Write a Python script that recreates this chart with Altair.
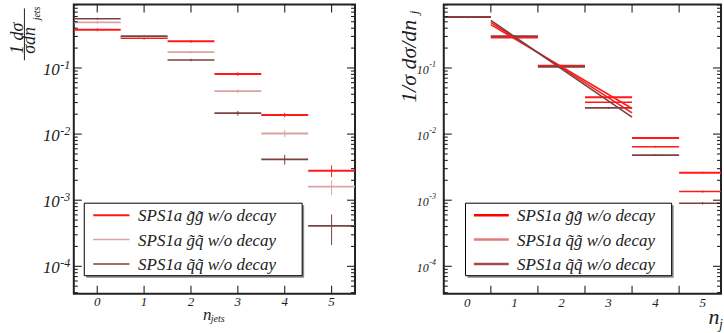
import altair as alt
import pandas as pd

FONT = "Liberation Serif"
INK = "#222222"

# ---------------- data ----------------
bins = [0, 1, 2, 3, 4, 5]
bin_labels = ["0", "1", "2", "3", "4", "5"]

left_series = ["gg", "gq", "qq"]
left_labels = ["SPS1a g\u0303g\u0303 w/o decay",
               "SPS1a g\u0303q\u0303 w/o decay",
               "SPS1a q\u0303q\u0303 w/o decay"]
left_gg = [0.379, 0.283, 0.253, 0.0812, 0.0195, 0.0028]
left_gg_err = [0.02, 0.015, 0.013, 0.005, 0.0015, 0.00055]
left_gq = [0.489, 0.294, 0.174, 0.0446, 0.0102, 0.0016]
left_gq_err = [0.02, 0.012, 0.008, 0.0028, 0.0012, 0.0004]
left_qq = [0.556, 0.304, 0.132, 0.0207, 0.00415, 0.00041]
left_qq_err = [0.02, 0.012, 0.006, 0.0017, 0.0007, 0.0002]

right_series = ["gg", "qg", "qq"]
right_labels = ["SPS1a g\u0303g\u0303  w/o decay",
                "SPS1a q\u0303g\u0303 w/o decay",
                "SPS1a q\u0303q\u0303 w/o decay"]
right_gg = [0.588, 0.290, 0.108, 0.0361, 0.0087, 0.0026]
right_gg_err = [0.02, 0.01, 0.004, 0.0012, 0.0003, 0.0001]
right_qg = [0.588, 0.298, 0.106, 0.0304, 0.00644, 0.00135]
right_qg_err = [0.02, 0.01, 0.004, 0.0010, 0.0002, 0.00005]
right_qq = [0.588, 0.305, 0.104, 0.0249, 0.00482, 0.0009]
right_qq_err = [0.02, 0.01, 0.004, 0.0008, 0.00015, 0.00004]

fit_x = [0.5, 3.5]
fit_gg = [0.452, 0.0244]
fit_qg = [0.489, 0.0209]
fit_qq = [0.524, 0.018]

y_domain = [3.86e-5, 0.914]
y_major = [1e-4, 1e-3, 1e-2, 1e-1]
y_major_exp = ["-4", "-3", "-2", "-1"]
y_minor = [m * 10.0 ** e for e in (-5, -4, -3, -2, -1) for m in range(2, 10)
           if y_domain[0] <= m * 10.0 ** e <= y_domain[1]]

left_xticks = [0, 1, 2, 3, 4, 5]
right_xticks = [0.5, 1.5, 2.5, 3.5, 4.5]

left_colors = ["#ff1a1a", "#dba2a2", "#7a4242"]
left_widths = [2.0, 1.5, 1.5]
right_colors = ["#ff0000", "#e07c7c", "#a44a4a"]
right_widths = [2.5, 2.5, 2.5]

H = 290
LW = 282
RW = 278

one = pd.DataFrame({"k": [0]})


def fixed_text(txt, x, y, size, angle=0, align="center", baseline="middle", weight="normal"):
    return alt.Chart(one).mark_text(
        text=txt, font=FONT, fontStyle="italic", fontSize=size, angle=angle,
        align=align, baseline=baseline, color=INK, fontWeight=weight
    ).encode(x=alt.value(x), y=alt.value(y))


def panel(series, labels, vals, errs, colors, widths, xdom, W, xticks,
          lab_fs, exp_fs, lab_x, legend_box, legend_line, legend_text_x,
          xlab_fs, xlab_y, fits=None):
    xscale = alt.Scale(domain=xdom, nice=False, zero=False)
    yscale = alt.Scale(type="log", domain=y_domain, nice=False)
    cscale = alt.Scale(domain=series, range=colors)
    wscale = alt.Scale(domain=series, range=widths)

    rows = []
    for s, v, e in zip(series, vals, errs):
        for n, val, err in zip(bins, v, e):
            rows.append(dict(series=s, n=n, lo=n - 0.5, hi=n + 0.5, val=val,
                             elo=val - err, ehi=val + err))
    df = pd.DataFrame(rows)

    bars = alt.Chart(df).mark_rule(clip=True, strokeCap="butt").encode(
        x=alt.X("lo:Q", scale=xscale, axis=None),
        x2="hi:Q",
        y=alt.Y("val:Q", scale=yscale, axis=None),
        color=alt.Color("series:N", scale=cscale, legend=None),
        strokeWidth=alt.StrokeWidth("series:N", scale=wscale, legend=None),
    )
    ebars = alt.Chart(df).mark_rule(clip=True, strokeWidth=1).encode(
        x=alt.X("n:Q", scale=xscale, axis=None),
        y=alt.Y("elo:Q", scale=yscale, axis=None),
        y2="ehi:Q",
        color=alt.Color("series:N", scale=cscale, legend=None),
    )
    layers = [bars, ebars]

    if fits is not None:
        frows = []
        for s, fy in zip(series, fits):
            for xx, yy in zip(fit_x, fy):
                frows.append(dict(series=s, x=xx, y=yy))
        fdf = pd.DataFrame(frows)
        layers.append(alt.Chart(fdf).mark_line(clip=True, strokeWidth=1.6).encode(
            x=alt.X("x:Q", scale=xscale, axis=None),
            y=alt.Y("y:Q", scale=yscale, axis=None),
            color=alt.Color("series:N", scale=cscale, legend=None),
            detail="series:N",
        ))

    ymaj = pd.DataFrame({"v": y_major, "exp": y_major_exp})
    ymin = pd.DataFrame({"v": y_minor})
    xt = pd.DataFrame({"v": xticks})
    xl = pd.DataFrame({"v": bins, "t": bin_labels})
    tick = dict(color=INK, strokeWidth=1.1)
    # inward y ticks on the left and right frame
    for d, ln in ((ymaj, 8), (ymin, 4)):
        layers.append(alt.Chart(d).mark_rule(**tick).encode(
            y=alt.Y("v:Q", scale=yscale, axis=None), x=alt.value(0), x2=alt.value(ln)))
        layers.append(alt.Chart(d).mark_rule(**tick).encode(
            y=alt.Y("v:Q", scale=yscale, axis=None), x=alt.value(W), x2=alt.value(W - ln)))
    # inward x ticks on the bottom and top frame
    layers.append(alt.Chart(xt).mark_rule(**tick).encode(
        x=alt.X("v:Q", scale=xscale, axis=None), y=alt.value(H), y2=alt.value(H - 8)))
    layers.append(alt.Chart(xt).mark_rule(**tick).encode(
        x=alt.X("v:Q", scale=xscale, axis=None), y=alt.value(0), y2=alt.value(8)))
    # x tick labels
    layers.append(alt.Chart(xl).mark_text(
        align="center", baseline="middle", font=FONT, fontStyle="italic",
        fontSize=xlab_fs, color=INK).encode(
        x=alt.X("v:Q", scale=xscale, axis=None), y=alt.value(xlab_y), text="t:N"))
    # y tick labels 10^k
    layers.append(alt.Chart(ymaj).mark_text(
        text="10", align="right", baseline="middle", font=FONT, fontStyle="italic",
        fontSize=lab_fs, color=INK, dy=2).encode(
        y=alt.Y("v:Q", scale=yscale, axis=None), x=alt.value(lab_x)))
    layers.append(alt.Chart(ymaj).mark_text(
        align="left", baseline="middle", font=FONT, fontStyle="italic",
        fontSize=exp_fs, color=INK, dy=-3).encode(
        y=alt.Y("v:Q", scale=yscale, axis=None), x=alt.value(lab_x + 0.5), text="exp:N"))

    # legend box with shadow
    bx0, by0, bx1, by1 = legend_box
    layers.append(alt.Chart(one).mark_rect(fill="#8a8a8a").encode(
        x=alt.value(bx0 + 2), x2=alt.value(bx1 + 2), y=alt.value(by0 + 2), y2=alt.value(by1 + 2)))
    layers.append(alt.Chart(one).mark_rect(fill="white", stroke="black", strokeWidth=1).encode(
        x=alt.value(bx0), x2=alt.value(bx1), y=alt.value(by0), y2=alt.value(by1)))
    lx0, lx1 = legend_line
    for i, (lab, col, w) in enumerate(zip(labels, colors, widths)):
        yy = by0 + 12 + i * 24.5
        layers.append(alt.Chart(one).mark_rule(color=col, strokeWidth=w, strokeCap="butt").encode(
            x=alt.value(lx0), x2=alt.value(lx1), y=alt.value(yy)))
        layers.append(fixed_text(lab, legend_text_x, yy + 1, 17, align="left"))
    return layers


# ---------------- left panel ----------------
left_layers = panel(
    left_series, left_labels, [left_gg, left_gq, left_qq],
    [left_gg_err, left_gq_err, left_qq_err], left_colors, left_widths,
    [-0.5, 5.5], LW, left_xticks, 17, 12, -14, (10.5, 199.3, 229, 272),
    (19.5, 55.8), 64.5, 13, 298.7)
left_layers += [
    fixed_text("1 d\u03c3", -56, 34, 18, angle=270),
    alt.Chart(one).mark_rule(color=INK, strokeWidth=1).encode(
        x=alt.value(-49.5), y=alt.value(4), y2=alt.value(56)),
    fixed_text("\u03c3dn", -43.7, 36, 18, angle=270),
    fixed_text("jets", -37, 9, 10, angle=270),
    fixed_text("n", 133.8, 311, 17),
    fixed_text("jets", 137.3, 315.5, 10, align="left"),
]
left = alt.layer(*left_layers).properties(width=LW, height=H)

# ---------------- right panel ----------------
right_layers = panel(
    right_series, right_labels, [right_gg, right_qg, right_qq],
    [right_gg_err, right_qg_err, right_qq_err], right_colors, right_widths,
    [-0.5, 5.39], RW, right_xticks, 12, 8, -15, (21.8, 199.3, 228.5, 272),
    (30.2, 65.2), 73.5, 13, 299.7, fits=[fit_gg, fit_qg, fit_qq])
right_layers += [
    fixed_text("1/\u03c3  d\u03c3/dn", -35, 57, 22, angle=270),
    fixed_text("j", -30, 8, 13, angle=270),
    fixed_text("n", 271, 313.7, 22),
    fixed_text("j", 276, 321, 14, align="left"),
]
right = alt.layer(*right_layers).properties(width=RW, height=H)

chart = alt.hconcat(left, right, spacing=89, bounds="flush").properties(
    padding={"left": 8, "top": 2, "right": 0, "bottom": 0}
).configure_view(stroke=INK, strokeWidth=2)

chart.save("out.html", embed_options={"renderer": "svg", "actions": False})
